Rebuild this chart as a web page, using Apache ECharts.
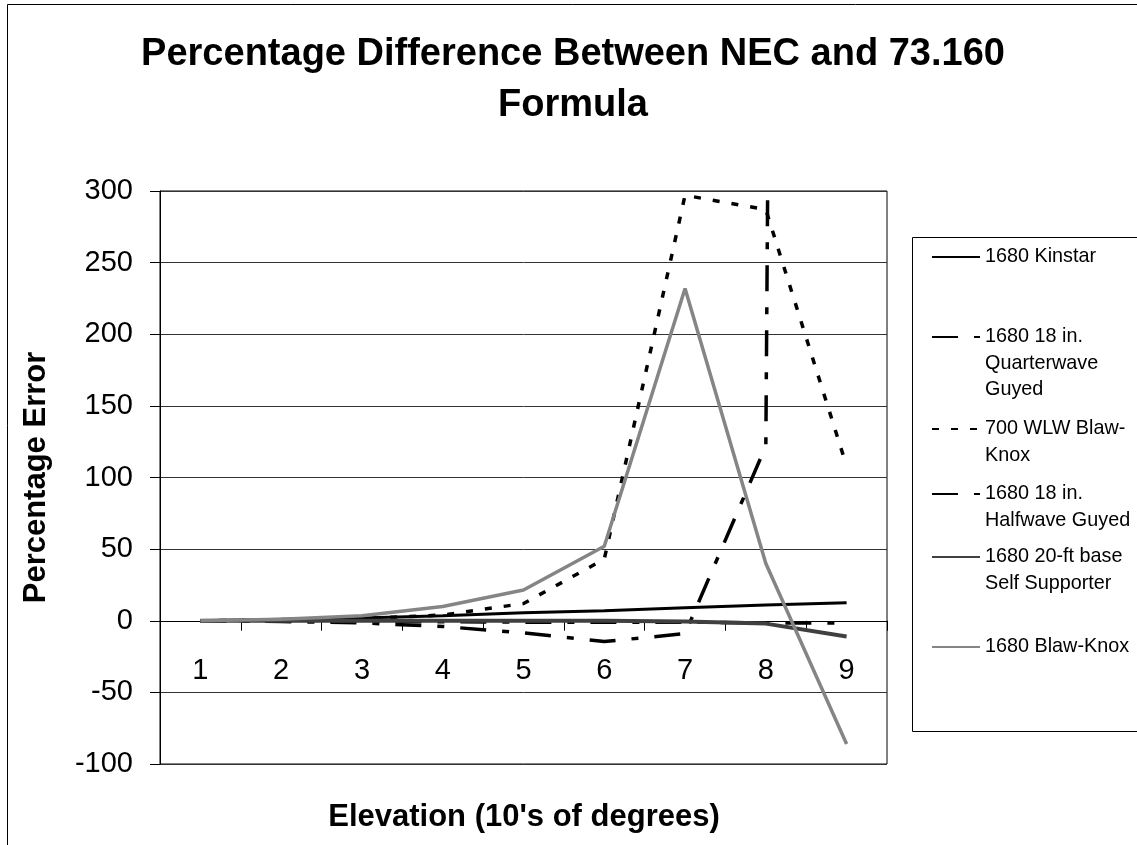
<!DOCTYPE html>
<html>
<head>
<meta charset="utf-8">
<script src="https://cdn.jsdelivr.net/npm/echarts@6/dist/echarts.min.js"></script>
<style>
  html, body { margin: 0; padding: 0; background: #fff; }
  #chart { width: 1137px; height: 845px; }
</style>
</head>
<body>
<div id="chart"></div>
<script>
// elevation categories (10's of degrees)
var categories = ['1', '2', '3', '4', '5', '6', '7', '8', '9'];

// percentage error
var kinstar      = [0, 1, 2, 3.5, 5.5, 7, 9, 11, 12.5];
var quarterwave  = [0, -0.3, -0.5, -0.7, -1, -1, -1, -1.5, -1.5];
var wlwBlawKnox  = [0, 0.5, 1.5, 4, 12, 43, 297, 287, 108];
var halfwave     = [0, -0.5, -1.5, -4, -8.5, -14.5, -9, 122, 8000]; // last point far off the top
var selfSupport  = [0, 0, 0, 0, 0, 0, -0.5, -2, -11];
var blawKnox     = [0, 1, 3.5, 10, 21.5, 52, 232, 40, -86];

var seriesNames = [
  '1680 Kinstar',
  '1680 18 in. Quarterwave Guyed',
  '700 WLW Blaw-Knox',
  '1680 18 in. Halfwave Guyed',
  '1680 20-ft base Self Supporter',
  '1680 Blaw-Knox'
];
// how the legend wraps them
var legendLabels = [
  ['1680 Kinstar'],
  ['1680 18 in.', 'Quarterwave', 'Guyed'],
  ['700 WLW Blaw-', 'Knox'],
  ['1680 18 in.', 'Halfwave Guyed'],
  ['1680 20-ft base', 'Self Supporter'],
  ['1680 Blaw-Knox']
];
var legendRowY = [257, 337, 429, 494, 557, 647];

var FONT = '"Liberation Sans", Arial, sans-serif';
var LINE_H = 26.5;
var Y_MIN = -100, Y_MAX = 300;
var GRID = { left: 160, top: 191, width: 727, height: 573 };

var myChart = echarts.init(document.getElementById('chart'));

var dashDot = [26, 16, 7, 16];
var styles = [
  { color: '#000', width: 3, type: 'solid' },
  { color: '#000', width: 3.5, type: dashDot },
  { color: '#000', width: 3.5, type: [7, 12] },
  { color: '#000', width: 3.5, type: dashDot },
  { color: '#404040', width: 4, type: 'solid' },
  { color: '#858585', width: 3.5, type: 'solid' }
];
var values = [kinstar, quarterwave, wlwBlawKnox, halfwave, selfSupport, blawKnox];

var series = [];
for (var i = 0; i < seriesNames.length; i++) {
  series.push({
    name: seriesNames[i],
    type: 'line',
    data: values[i],
    symbol: 'none',
    clip: true,
    animation: false,
    color: styles[i].color,
    lineStyle: {
      color: styles[i].color,
      width: styles[i].width,
      type: styles[i].type
    }
  });
}

// one legend per entry so the icon sits on the first text line
var legends = [];
for (var j = 0; j < seriesNames.length; j++) {
  var lines = legendLabels[j];
  var pad = [];
  for (var p = 0; p < lines.length - 1; p++) pad.push('');
  var text = pad.concat(lines).join('\n');
  var k = lines.length * 2 - 1;
  legends.push({
    data: [seriesNames[j]],
    orient: 'vertical',
    left: 931,
    top: legendRowY[j] - k * LINE_H / 2,
    padding: 0,
    itemWidth: 48,
    itemHeight: 14,
    selectedMode: false,
    itemStyle: { opacity: 0 },
    formatter: (function (t) { return function () { return t; }; })(text),
    textStyle: { fontSize: 19.8, lineHeight: LINE_H, color: '#000', fontFamily: FONT }
  });
}

// category axis sits on y = 0 (labels included), so shift it up from the grid bottom
var zeroOffset = -GRID.height * (0 - Y_MIN) / (Y_MAX - Y_MIN);

var option = {
  backgroundColor: '#fff',
  animation: false,
  title: [
    {
      text: 'Percentage Difference Between NEC and 73.160\nFormula',
      left: 568,
      top: 24,
      textAlign: 'center',
      textStyle: {
        fontSize: 38,
        fontWeight: 'bold',
        lineHeight: 51,
        color: '#000',
        fontFamily: FONT
      }
    },
    {
      // x axis title
      text: "Elevation (10's of degrees)",
      left: 519,
      top: 797,
      textAlign: 'center',
      textStyle: { fontSize: 31, fontWeight: 'bold', lineHeight: 31, color: '#000', fontFamily: FONT }
    }
  ],
  legend: legends,
  graphic: [
    {
      type: 'rect',
      z: -10,
      shape: { x: 7.5, y: 4.5, width: 1200, height: 900 },
      style: { fill: 'none', stroke: '#000', lineWidth: 1 }
    },
    {
      type: 'rect',
      z: -5,
      shape: { x: 912.5, y: 237.5, width: 300, height: 494 },
      style: { fill: '#fff', stroke: '#000', lineWidth: 1 }
    }
  ],
  grid: {
    left: GRID.left,
    top: GRID.top,
    width: GRID.width,
    height: GRID.height,
    outerBoundsMode: 'none',
    containLabel: false,
    show: true,
    borderColor: '#000',
    borderWidth: 1,
    backgroundColor: '#fff'
  },
  xAxis: {
    type: 'category',
    data: categories,
    boundaryGap: true,
    position: 'bottom',
    offset: zeroOffset,
    axisLine: { onZero: false, lineStyle: { color: '#000', width: 1 } },
    axisTick: { show: true, length: 10, lineStyle: { color: '#000' } },
    axisLabel: { fontSize: 29, color: '#000', margin: 36, fontFamily: FONT },
    splitLine: { show: false }
  },
  yAxis: {
    type: 'value',
    min: Y_MIN,
    max: Y_MAX,
    interval: 50,
    name: 'Percentage Error',
    nameLocation: 'middle',
    nameRotate: 90,
    nameGap: 108,
    nameTextStyle: { fontSize: 31, fontWeight: 'bold', color: '#000', fontFamily: FONT },
    axisLine: { show: true, lineStyle: { color: '#000', width: 1 } },
    axisTick: { show: true, length: 10, lineStyle: { color: '#000' } },
    axisLabel: { fontSize: 29, color: '#000', margin: 27, fontFamily: FONT },
    splitLine: { show: true, lineStyle: { color: '#333', width: 1 } }
  },
  series: series
};

myChart.setOption(option);
</script>
</body>
</html>
